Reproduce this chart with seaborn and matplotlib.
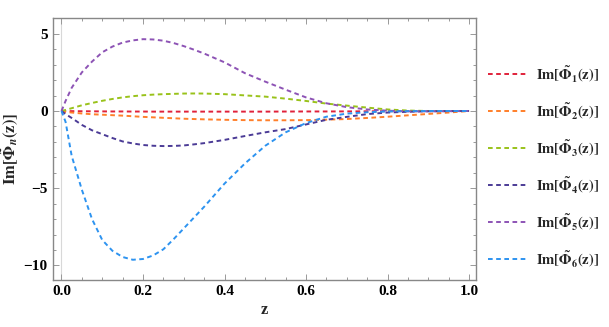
import matplotlib
matplotlib.use("Agg")
import matplotlib.pyplot as plt
import numpy as np
import pandas as pd
import seaborn as sns
from matplotlib.ticker import MultipleLocator

# values
z = [0, 0.01, 0.025, 0.05, 0.075, 0.1, 0.125, 0.15, 0.175, 0.2, 0.225, 0.25, 0.275, 0.3, 0.325, 0.35,
     0.4, 0.45, 0.5, 0.55, 0.6, 0.65, 0.7, 0.75, 0.8, 0.85, 0.9, 0.95, 1.0]
phi1 = [0, -0.005, -0.01, -0.015, -0.02, -0.025, -0.03, -0.03, -0.035, -0.035, -0.04, -0.04, -0.04, -0.04, -0.04, -0.04,
        -0.04, -0.04, -0.04, -0.035, -0.03, -0.03, -0.025, -0.02, -0.015, -0.01, -0.005, 0, 0]
phi2 = [0, -0.06, -0.1, -0.16, -0.21, -0.24, -0.27, -0.3, -0.34, -0.38, -0.41, -0.44, -0.47, -0.5, -0.52, -0.54,
        -0.57, -0.59, -0.6, -0.6, -0.59, -0.56, -0.52, -0.45, -0.37, -0.28, -0.19, -0.1, 0]
phi3 = [0, 0.07, 0.18, 0.37, 0.52, 0.66, 0.78, 0.88, 0.96, 1.02, 1.06, 1.09, 1.11, 1.13, 1.135, 1.13,
        1.09, 1.01, 0.93, 0.8, 0.65, 0.48, 0.35, 0.22, 0.1, 0.03, 0.0, 0.0, 0]
phi4 = [0, -0.2, -0.45, -0.9, -1.25, -1.5, -1.75, -1.97, -2.1, -2.2, -2.25, -2.27, -2.26, -2.23, -2.16, -2.08,
        -1.87, -1.62, -1.38, -1.17, -0.87, -0.57, -0.38, -0.2, -0.1, -0.05, -0.02, -0.01, 0]
phi5 = [0, 0.65, 1.5, 2.5, 3.2, 3.8, 4.17, 4.43, 4.57, 4.65, 4.63, 4.55, 4.4, 4.2, 3.97, 3.72,
        3.15, 2.45, 1.9, 1.38, 0.88, 0.5, 0.25, 0.1, 0.02, -0.02, -0.02, -0.01, 0]
phi6 = [0, -0.7, -2.9, -5.1, -7.0, -8.35, -9.05, -9.45, -9.63, -9.58, -9.35, -8.95, -8.3, -7.6, -6.9, -6.2,
        -4.7, -3.4, -2.25, -1.38, -0.78, -0.37, -0.17, -0.08, -0.03, -0.01, 0, 0, 0]

series = [phi1, phi2, phi3, phi4, phi5, phi6]
labels = [r'$\mathbf{Im[\tilde{\Phi}_%d(z)]}$' % (i + 1) for i in range(6)]
colors = ['#e0213a', '#ff7f2a', '#99c21a', '#4b3b96', '#8d53b5', '#2d93f0']

df = pd.concat([pd.DataFrame({'z': z, 'val': s, 'series': lab})
                for s, lab in zip(series, labels)], ignore_index=True)

sns.set_style('ticks')
plt.rcParams['font.family'] = ['Liberation Serif', 'DejaVu Serif']
plt.rcParams['font.weight'] = 'bold'
plt.rcParams['mathtext.fontset'] = 'stix'

fig = plt.figure(figsize=(6.09, 3.27), dpi=100)
ax = fig.add_axes([0.0865, 0.1437, 0.6951, 0.8003])

ax.axvline(0, color='#d8d8d8', lw=0.8, zorder=0)
sns.lineplot(data=df, x='z', y='val', hue='series', palette=colors,
             style='series', dashes={lab: (2.4, 1.8) for lab in labels},
             lw=1.4, legend=False, ax=ax, sort=False)

ax.xaxis.set_major_locator(MultipleLocator(0.2))
ax.xaxis.set_minor_locator(MultipleLocator(0.05))
ax.yaxis.set_major_locator(MultipleLocator(5))
ax.yaxis.set_minor_locator(MultipleLocator(1))
ax.tick_params(which='both', direction='in', top=True, right=True, color='#999999',
               labelsize=11, labelcolor='black', width=0.7)
ax.tick_params(which='major', length=4)
ax.tick_params(which='minor', length=2)
ax.set_xticks(ax.get_xticks())
ax.set_xticklabels([f'{v:.1f}' for v in ax.get_xticks()], fontweight='bold')
ax.set_yticks(ax.get_yticks())
ax.set_yticklabels([f'{int(v)}'.replace('-', '\u2212') for v in ax.get_yticks()], fontweight='bold')
ax.set_xlim(-0.0216, 1.017)
ax.set_ylim(-10.94, 6.0)
for sp in ax.spines.values():
    sp.set_color('#888888')
    sp.set_linewidth(1.0)

ax.set_xlabel('z', fontsize=12, fontweight='bold', labelpad=3)
ax.set_ylabel(r'$\mathbf{Im[\tilde{\Phi}_{\mathit{n}}(z)]}$', fontsize=12, labelpad=2)

handles = ax.get_lines()[1:]
fig.legend(handles, labels, loc='center left', bbox_to_anchor=(0.78, 0.491),
           frameon=False, fontsize=10.5, labelspacing=1.17, handlelength=2.6,
           handletextpad=0.7)

fig.savefig('out.png', dpi=100)
